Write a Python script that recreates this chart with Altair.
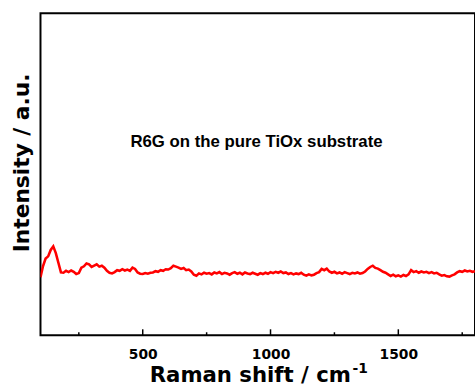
import altair as alt
import pandas as pd

# ---- data ----
shift = list(range(100, 1801, 10))
intensity = [
    18.0, 21.5, 23.8, 24.5, 26.5, 27.6, 25.5, 22.5, 19.5, 19.4,
    20.0, 19.6, 20.1, 19.7, 19.0, 19.3, 21.0, 21.4, 22.3, 22.0,
    21.2, 21.6, 22.0, 21.3, 21.6, 21.0, 20.0, 19.4, 19.2, 19.6,
    20.2, 20.0, 20.5, 20.1, 20.4, 20.0, 21.0, 20.6, 19.5, 19.1,
    19.0, 19.3, 19.1, 19.4, 19.5, 19.9, 19.7, 20.2, 20.0, 20.5,
    20.4, 20.8, 21.6, 21.3, 21.0, 20.6, 20.9, 20.2, 20.4, 19.8,
    18.8, 18.5, 19.2, 18.9, 19.4, 19.1, 19.3, 18.9, 19.5, 19.2,
    19.6, 19.0, 19.4, 19.2, 18.8, 19.3, 19.6, 19.1, 19.4, 18.9,
    19.5, 19.2, 19.0, 19.4, 19.1, 18.8, 19.3, 19.0, 19.4, 19.1,
    19.6, 19.3, 19.7, 19.4, 19.8, 19.3, 19.5, 19.0, 19.3, 18.9,
    19.2, 19.0, 19.4, 18.8, 18.5, 18.9, 18.6, 18.8, 19.3, 19.6,
    20.6, 20.2, 20.7, 19.8, 19.4, 19.7, 19.2, 19.5, 19.1, 19.6,
    19.3, 19.0, 19.4, 19.2, 19.5, 19.1, 19.3, 19.8, 20.6, 21.2,
    21.6, 20.9, 20.7, 20.2, 19.7, 19.4, 18.9, 18.4, 18.8, 18.3,
    18.6, 18.2, 18.7, 18.4, 18.9, 20.2, 19.6, 19.9, 19.4, 19.8,
    19.5, 19.7, 19.3, 19.6, 19.2, 19.4, 18.9, 18.5, 18.7, 18.3,
    18.2, 18.6, 18.9, 19.5, 19.9, 19.7, 20.1, 19.8, 20.0, 19.7,
    19.9,
]
major_ticks = [500, 1000, 1500]
minor_ticks = [250, 750, 1250, 1750]
x_domain = [100, 1800]
y_domain = [0, 100]
x_title = "Raman shift / cm"
x_title_sup = ["-1"]
y_title = "Intensity / a.u."
annotation = ["R6G on the pure TiOx substrate"]

W, H = 440, 326
AXIS_FONT = "DejaVu Sans"

df = pd.DataFrame({"shift": shift, "intensity": intensity})
xscale = alt.Scale(domain=x_domain, nice=False, zero=False)
yscale = alt.Scale(domain=y_domain, nice=False, zero=False)

line = alt.Chart(df).mark_line(color="#ff0000", strokeWidth=2.6, clip=True).encode(
    x=alt.X(
        "shift:Q", scale=xscale,
        axis=alt.Axis(
            title=x_title, values=major_ticks, format="d", ticks=False, domain=False,
            grid=False, labelFont=AXIS_FONT, labelFontWeight="bold", labelFontSize=14,
            labelColor="black", labelPadding=13,
            titleFont=AXIS_FONT, titleFontWeight="bold", titleFontSize=21.5,
            titleColor="black", titleX=212, titleY=47, titleBaseline="alphabetic",
            titleAlign="center",
        ),
    ),
    y=alt.Y(
        "intensity:Q", scale=yscale,
        axis=alt.Axis(
            title=y_title, labels=False, ticks=False, domain=False, grid=False,
            titleFont=AXIS_FONT, titleFontWeight="bold", titleFontSize=22,
            titleColor="black", titleX=-12, titleY=151, titleAngle=270,
            titleBaseline="alphabetic", titleAlign="center",
        ),
    ),
)

major = alt.Chart(pd.DataFrame({"shift": major_ticks})).mark_rule(
    color="black", strokeWidth=1.5
).encode(x=alt.X("shift:Q", scale=xscale), y=alt.value(H - 6), y2=alt.value(H))

minor = alt.Chart(pd.DataFrame({"shift": minor_ticks})).mark_rule(
    color="black", strokeWidth=1.5
).encode(x=alt.X("shift:Q", scale=xscale), y=alt.value(H - 3), y2=alt.value(H))

sup = alt.Chart(pd.DataFrame({"t": x_title_sup})).mark_text(
    font=AXIS_FONT, fontWeight="bold", fontSize=14, color="black",
    align="left", baseline="alphabetic",
).encode(x=alt.value(316), y=alt.value(364), text="t:N")

note = alt.Chart(pd.DataFrame({"t": annotation})).mark_text(
    font="Liberation Sans", fontWeight="bold", fontSize=17, color="black",
    align="center", baseline="alphabetic",
).encode(x=alt.value(218.7), y=alt.value(135), text="t:N")

chart = (
    alt.layer(line, major, minor, sup, note)
    .properties(
        width=W, height=H, autosize="none",
        padding={"left": 41, "top": 11, "right": 0, "bottom": 52},
        background="white",
    )
    .configure_view(stroke="black", strokeWidth=2)
)

chart.save("out.html", embed_options={"renderer": "svg", "actions": False})
